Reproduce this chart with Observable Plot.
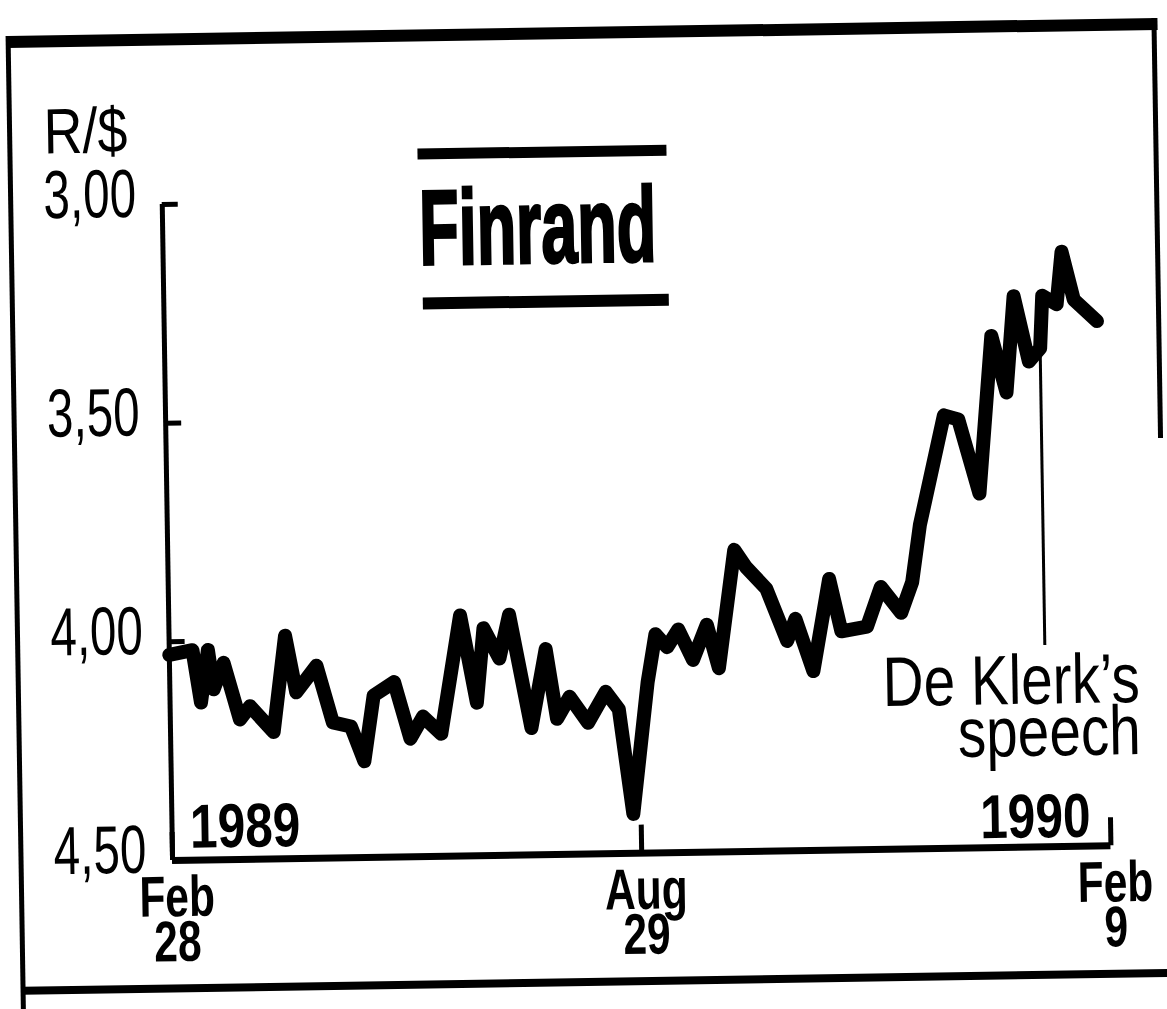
<!DOCTYPE html>
<html>
<head>
<meta charset="utf-8">
<script src="https://cdn.jsdelivr.net/npm/d3@7"></script>
<script src="https://cdn.jsdelivr.net/npm/@observablehq/plot@0.6"></script>
<style>
  html, body { margin: 0; padding: 0; background: #fff; }
  #page { position: relative; width: 1167px; height: 1009px; overflow: hidden; background: #fff; }
  #sheet { position: absolute; left: 0; top: 0; width: 1167px; height: 1009px;
           transform: rotate(-0.9deg); transform-origin: 583px 504px; }
  #sheet svg { position: absolute; left: 0; top: 0; }
  .bx { position: absolute; background: #000; }
  #title { position: absolute; left: 342px; top: 172px; width: 400px; text-align: center;
           font-family: "Liberation Sans", Arial, sans-serif; font-weight: bold;
           font-size: 106px; line-height: 106px; color: #000; white-space: nowrap;
           transform: scaleX(0.61); transform-origin: center; -webkit-text-stroke: 3px #000; }
</style>
</head>
<body>
<div id="page"><div id="sheet"></div></div>
<script>
// ---- data ----
const dates = [
  "1989-02-28","1989-03-09","1989-03-12","1989-03-15","1989-03-17","1989-03-21","1989-03-27","1989-03-31",
  "1989-04-09","1989-04-14","1989-04-18","1989-04-26","1989-05-02","1989-05-09","1989-05-14","1989-05-18",
  "1989-05-26","1989-06-01","1989-06-06","1989-06-13","1989-06-21","1989-06-27","1989-06-30","1989-07-06",
  "1989-07-10","1989-07-18","1989-07-24","1989-07-28","1989-08-02","1989-08-09","1989-08-16","1989-08-21",
  "1989-08-26","1989-09-01","1989-09-04","1989-09-08","1989-09-12","1989-09-17","1989-09-22","1989-09-26",
  "1989-10-02","1989-10-06","1989-10-13","1989-10-20","1989-10-23","1989-10-29","1989-11-04","1989-11-08",
  "1989-11-17","1989-11-22","1989-11-29","1989-12-03","1989-12-06","1989-12-15","1989-12-20","1989-12-27",
  "1990-01-01","1990-01-06","1990-01-09","1990-01-14","1990-01-18","1990-01-19","1990-01-24","1990-01-26",
  "1990-01-30","1990-02-07"
];
const rates = [
  4.03, 4.02, 4.14, 4.02, 4.11, 4.05, 4.18, 4.15,
  4.21, 3.99, 4.12, 4.06, 4.19, 4.20, 4.28, 4.13,
  4.10, 4.23, 4.18, 4.22, 3.95, 4.15, 3.98, 4.05,
  3.95, 4.21, 4.03, 4.19, 4.14, 4.20, 4.13, 4.17,
  4.41, 4.11, 4.00, 4.03, 3.99, 4.06, 3.98, 4.08,
  3.81, 3.85, 3.90, 4.02, 3.97, 4.09, 3.88, 4.00,
  3.99, 3.90, 3.96, 3.89, 3.76, 3.51, 3.52, 3.69,
  3.33, 3.46, 3.24, 3.39, 3.36, 3.24, 3.26, 3.14,
  3.25, 3.30
];
const yTicks = [3.0, 3.5, 4.0, 4.5];
const yTickLabels = ["3,00", "3,50", "4,00", "4,50"];
const yLabel = "R/$";
const xTickDates = ["1989-02-28", "1989-08-29", "1990-02-09"];
const xTickLabels = ["Feb\n28", "Aug\n29", "Feb\n9"];
const yearLabels = ["1989", "1990"];
const titleText = "Finrand";
const noteDate = ["1990-01-18"];
const noteLabel = ["De Klerk\u2019s\nspeech"];
const noteTop = [3.36];
const noteBottom = [4.04];

// ---- build tables ----
const series = dates.map((d, i) => ({date: new Date(d), rate: rates[i]}));
const xTicks = xTickDates.map(d => new Date(d));
const note = noteDate.map((d, i) => ({date: new Date(d), label: noteLabel[i], top: noteTop[i], bottom: noteBottom[i]}));
const years = [
  {date: xTicks[0], label: yearLabels[0]},
  {date: xTicks[xTicks.length - 1], label: yearLabels[1]}
];

const FONT = '"Liberation Sans", Arial, sans-serif';

const chart = Plot.plot({
  width: 1167,
  height: 1009,
  marginTop: 197.5,
  marginBottom: 155.5,
  marginLeft: 166.5,
  marginRight: 62,
  style: {fontFamily: FONT, background: "transparent", color: "#000"},
  x: {type: "utc", domain: xTicks, range: [166.5, 635.7, 1105]},
  y: {domain: [yTicks[0], yTicks[yTicks.length - 1]], reverse: true},
  marks: [
    // axis lines
    Plot.ruleX([xTicks[0]], {strokeWidth: 5}),
    Plot.ruleY([yTicks[yTicks.length - 1]], {strokeWidth: 7}),
    // inward ticks
    Plot.axisY({ticks: yTicks, tickSize: -16, strokeWidth: 5, fill: "none", label: null}),
    Plot.axisX({ticks: xTicks, tickSize: -28, strokeWidth: 5, fill: "none", label: null}),
    // tick labels
    Plot.axisY({ticks: yTicks, tickSize: 0, tickPadding: 26, dy: -10,
      tickFormat: d => yTickLabels[yTicks.indexOf(d)], fontSize: 68, label: null}),
    Plot.axisX({ticks: xTicks, tickSize: 0, tickPadding: 24, dx: 4,
      tickFormat: d => xTickLabels[xTicks.findIndex(t => +t === +d)],
      fontSize: 50, fontWeight: "bold", lineHeight: 0.78, label: null}),
    // unit label
    Plot.text([yLabel], {frameAnchor: "top-left", dx: -117.5, dy: -53, textAnchor: "start",
      lineAnchor: "bottom", fontSize: 64}),
    // year labels
    Plot.text(years.slice(0, 1), {x: "date", text: "label", frameAnchor: "bottom", textAnchor: "start",
      lineAnchor: "bottom", dx: 18, dy: -12.5, fontSize: 62, fontWeight: "bold"}),
    Plot.text(years.slice(1), {x: "date", text: "label", frameAnchor: "bottom", textAnchor: "end",
      lineAnchor: "bottom", dx: -20, dy: -9.5, fontSize: 62, fontWeight: "bold"}),
    // annotation
    Plot.ruleX(note, {x: "date", y1: "top", y2: "bottom", strokeWidth: 3}),
    Plot.text(note, {x: "date", y: "bottom", text: "label", textAnchor: "end", lineAnchor: "top",
      dx: 94.5, dy: 21, fontSize: 70, lineHeight: 0.743}),
    // the series
    Plot.line(series, {x: "date", y: "rate", strokeWidth: 14, strokeLinejoin: "round", strokeLinecap: "round"})
  ]
});

// condense the type to the narrow newspaper face
function squeezeEl(el, sx, sy) {
  const tr = el.getAttribute("transform") || "";
  const x = +el.getAttribute("x") || 0, y = +el.getAttribute("y") || 0;
  el.setAttribute("transform", `${tr} translate(${x},${y}) scale(${sx},${sy}) translate(${-x},${-y})`);
}
chart.querySelectorAll('g[aria-label="y-axis tick label"] text').forEach(el => squeezeEl(el, 0.7, 1));
chart.querySelectorAll('g[aria-label="x-axis tick label"] text').forEach(el => squeezeEl(el, 0.85, 1.15));
chart.querySelectorAll('g[aria-label="text"] text').forEach(el => {
  const s = el.textContent;
  if (s === yLabel) squeezeEl(el, 0.84, 1);
  else if (yearLabels.includes(s)) squeezeEl(el, 0.8, 1);
  else if (s.startsWith("De Klerk")) squeezeEl(el, 0.81, 1);
});

const sheet = document.getElementById("sheet");
sheet.appendChild(chart);

// newspaper frame
function box(l, t, w, h) {
  const b = document.createElement("div");
  b.className = "bx";
  Object.assign(b.style, {left: l + "px", top: t + "px", width: w + "px", height: h + "px"});
  sheet.appendChild(b);
}
box(15, 27, 1150, 12);     // top
box(13, 27, 5, 990);       // left
box(15, 978, 1160, 8);     // bottom
box(1159, 27, 5, 420);     // right (partial)
// title rules
box(423, 146, 249, 11);
box(426, 295, 246, 12);
// title
const t = document.createElement("div");
t.id = "title";
t.textContent = titleText;
sheet.appendChild(t);
</script>
</body>
</html>
